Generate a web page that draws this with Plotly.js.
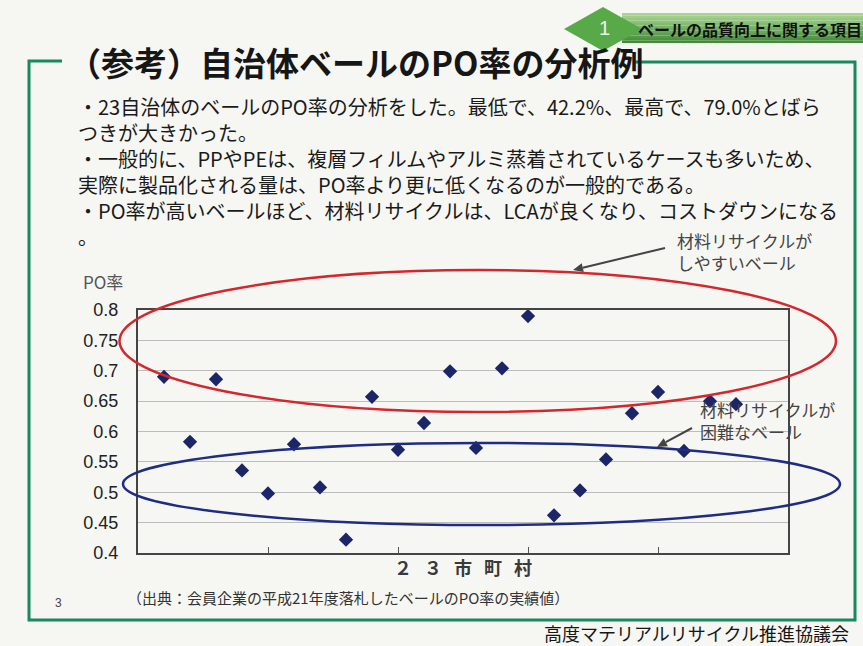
<!DOCTYPE html>
<html><head><meta charset="utf-8">
<script src="https://cdn.plot.ly/plotly-3.0.1.min.js"></script>
<style>html,body{margin:0;padding:0;background:#f6f7f3;overflow:hidden;} #chart{width:863px;height:646px;}</style>
</head><body><div id="chart"></div>
<script>
// ---- data ----
const municipalities = [1,2,3,4,5,6,7,8,9,10,11,12,13,14,15,16,17,18,19,20,21,22,23];
const poRates = [0.690,0.583,0.686,0.536,0.498,0.579,0.508,0.422,0.657,0.570,0.614,0.699,0.573,0.704,0.790,0.462,0.503,0.554,0.630,0.665,0.568,0.650,0.645];
const yTickValues = [0.4,0.45,0.5,0.55,0.6,0.65,0.7,0.75,0.8];
const yTickLabels = ['0.4','0.45','0.5','0.55','0.6','0.65','0.7','0.75','0.8'];
const titleText = '（参考）自治体ベールのPO率の分析例';
const sectionText = 'ベールの品質向上に関する項目';
const sectionNumber = '1';
const bodyLines = [
  '・23自治体のベールのPO率の分析をした。最低で、42.2%、最高で、79.0%とばら',
  'つきが大きかった。',
  '・一般的に、PPやPEは、複層フィルムやアルミ蒸着されているケースも多いため、',
  '実際に製品化される量は、PO率より更に低くなるのが一般的である。',
  '・PO率が高いベールほど、材料リサイクルは、LCAが良くなり、コストダウンになる',
  '。'
];
const yAxisLabel = 'PO率';
const xAxisLabel = ['２','３','市','町','村'];
const sourceText = '（出典：会員企業の平成21年度落札したベールのPO率の実績値）';
const calloutHigh = ['材料リサイクルが','しやすいベール'];
const calloutLow = ['材料リサイクルが','困難なベール'];
const pageNumber = '3';
const footerText = '高度マテリアルリサイクル推進協議会';

// ---- layout helpers (pixel -> paper) ----
const W = 863, H = 646, L = 138, R = 788, T = 310, B = 553;
const X = px => (px - L) / (R - L);
const Y = py => (B - py) / (B - T);
const JP = '"Noto Sans CJK JP", "Noto Sans", sans-serif';
const GREEN = '#17895d';

const shapes = [];
// banner gradient stripes
const bTop = 13, bBot = 43, n = 12;
const c0 = [168,214,146], c1 = [66,140,56];
for (let i = 0; i < n; i++) {
  const t = i / (n - 1);
  const c = c0.map((v, k) => Math.round(v + (c1[k] - v) * t));
  shapes.push({type:'rect', xref:'paper', yref:'paper',
    x0:X(622), x1:X(870), y0:Y(bTop + (bBot-bTop)*(i+1)/n), y1:Y(bTop + (bBot-bTop)*i/n),
    fillcolor:`rgb(${c.join(',')})`, line:{width:0}, layer:'below'});
}
// diamond (on top of banner)
shapes.push({type:'path', xref:'paper', yref:'paper', layer:'above',
  path:`M ${X(564)},${Y(29)} L ${X(603)},${Y(7)} L ${X(642)},${Y(29)} L ${X(603)},${Y(51)} Z`,
  fillcolor:'#58aa48', line:{width:0}});
// green frame
shapes.push({type:'path', xref:'paper', yref:'paper',
  path:`M ${X(62)},${Y(61)} L ${X(29)},${Y(61)} L ${X(29)},${Y(620)} L ${X(855)},${Y(620)} L ${X(855)},${Y(62)} L ${X(634)},${Y(62)}`,
  line:{color:GREEN, width:3}});
// ellipses
shapes.push({type:'circle', xref:'paper', yref:'paper',
  x0:X(119.5), x1:X(836), y0:Y(412), y1:Y(270), line:{color:'#d6262d', width:2.5}});
shapes.push({type:'circle', xref:'paper', yref:'paper',
  x0:X(123), x1:X(840), y0:Y(525), y1:Y(443), line:{color:'#1f2c84', width:2.5}});
// callout arrows: line + filled head, built in pixels then converted
[[665, 248, 573, 270], [692, 428, 657, 447]].forEach(([tx, ty, hx, hy]) => {
  const dx = hx - tx, dy = hy - ty, len = Math.hypot(dx, dy);
  const ux = dx / len, uy = dy / len, hl = 10, hw = 4.5;
  const bx = hx - ux * hl, by = hy - uy * hl;
  shapes.push({type:'line', xref:'paper', yref:'paper', x0:X(tx), y0:Y(ty), x1:X(bx), y1:Y(by),
    line:{color:'#444', width:2}});
  shapes.push({type:'path', xref:'paper', yref:'paper', fillcolor:'#444', line:{width:0},
    path:`M ${X(hx)},${Y(hy)} L ${X(bx - uy*hw)},${Y(by + ux*hw)} L ${X(bx + uy*hw)},${Y(by - ux*hw)} Z`});
});

const ann = [];
ann.push({text:titleText, xref:'paper', yref:'paper', x:X(66), y:Y(62), xanchor:'left', yanchor:'middle',
  showarrow:false, font:{family:JP, size:33, color:'#161616', weight:'bold'}});
ann.push({text:sectionNumber, xref:'paper', yref:'paper', x:X(604), y:Y(28), xanchor:'center', yanchor:'middle',
  showarrow:false, font:{family:'"Liberation Sans", Arial, sans-serif', size:20, color:'#eef6e8'}});
ann.push({text:sectionText, xref:'paper', yref:'paper', x:X(636), y:Y(29), xanchor:'left', yanchor:'middle',
  showarrow:false, font:{family:JP, size:16, color:'#111', weight:'bold'}});
ann.push({text:bodyLines.join('<br>'), xref:'paper', yref:'paper', x:X(76), y:Y(171), align:'left',
  xanchor:'left', yanchor:'middle', showarrow:false, font:{family:JP, size:20, color:'#1a1a1a'}});
ann.push({text:yAxisLabel, xref:'paper', yref:'paper', x:X(81), y:Y(281), xanchor:'left', yanchor:'middle',
  showarrow:false, font:{family:JP, size:17, color:'#555'}});
ann.push({text:sourceText, xref:'paper', yref:'paper', x:X(125), y:Y(597), xanchor:'left', yanchor:'middle',
  showarrow:false, font:{family:JP, size:15, color:'#333'}});
ann.push({text:pageNumber, xref:'paper', yref:'paper', x:X(58), y:Y(603), xanchor:'center', yanchor:'middle',
  showarrow:false, font:{family:'"Liberation Sans", Arial, sans-serif', size:12, color:'#444'}});
ann.push({text:footerText, xref:'paper', yref:'paper', x:X(851), y:Y(633), xanchor:'right', yanchor:'middle',
  showarrow:false, font:{family:JP, size:18, color:'#161616'}});
[[calloutHigh, 675, 251], [calloutLow, 698, 420]].forEach(([lines, x0, yc]) => {
  ann.push({text:lines.join('<br>'), xref:'paper', yref:'paper', x:X(x0), y:Y(yc), align:'left',
    xanchor:'left', yanchor:'middle', showarrow:false, font:{family:JP, size:17, color:'#444'}});
});

const trace = {
  x: municipalities, y: poRates, type:'scatter', mode:'markers', cliponaxis:false,
  marker:{symbol:'diamond', size:11, color:'#1b2668'}, hoverinfo:'x+y'
};

const layout = {
  width:W, height:H, margin:{l:L, r:W-R, t:T, b:H-B, pad:0},
  paper_bgcolor:'#f6f7f3', plot_bgcolor:'rgba(0,0,0,0)', showlegend:false,
  xaxis:{range:[0,25], tick0:0, dtick:5, ticks:'inside', ticklen:6, tickwidth:1, tickcolor:'#555',
    showticklabels:false, showgrid:false, zeroline:false, showline:true, mirror:true,
    linecolor:'#444', linewidth:2, fixedrange:true,
    title:{text:xAxisLabel.join('\u2002\u2006'), standoff:8, font:{family:JP, size:18, color:'#3a3a3a', weight:'bold'}}},
  yaxis:{range:[0.4,0.8], tickmode:'array', tickvals:yTickValues, ticktext:yTickLabels,
    ticks:'', showgrid:true, gridcolor:'#bcbcbc', gridwidth:1, zeroline:false, showline:true, mirror:true,
    linecolor:'#444', linewidth:2, ticklabelstandoff:14, fixedrange:true,
    tickfont:{family:'"Liberation Sans", Arial, sans-serif', size:18, color:'#222'}},
  shapes: shapes, annotations: ann
};
Plotly.newPlot('chart', [trace], layout, {displayModeBar:false, staticPlot:true});
</script></body></html>
